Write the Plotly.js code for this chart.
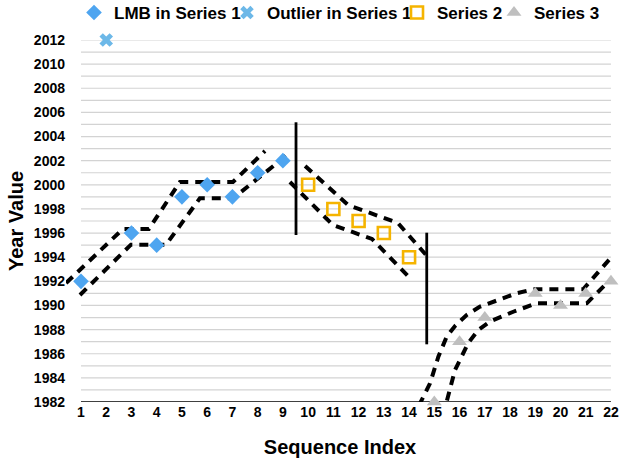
<!DOCTYPE html>
<html>
<head>
<meta charset="utf-8">
<script src="https://cdn.plot.ly/plotly-3.0.1.min.js"></script>
<style>html,body{margin:0;padding:0;background:#fff;}#chart{width:621px;height:462px;}</style>
</head>
<body>
<div id="chart"></div>
<script>
// ---- data ----
var xTicks = [1,2,3,4,5,6,7,8,9,10,11,12,13,14,15,16,17,18,19,20,21,22];
var yTicks = [1982,1984,1986,1988,1990,1992,1994,1996,1998,2000,2002,2004,2006,2008,2010,2012];
var gridYears = [1982,1983,1984,1985,1986,1987,1988,1989,1990,1991,1992,1993,1994,1995,1996,1997,1998,1999,2000,2001,2002,2003,2004,2005,2006,2007,2008,2009,2010,2011,2012];

var s1X = [1,3,4,5,6,7,8,9];
var s1Y = [1992,1996,1995,1999,2000,1999,2001,2002];
var outX = [2];
var outY = [2012];
var s2X = [10,11,12,13,14];
var s2Y = [2000,1998,1997,1996,1994];
var s3X = [15,16,17,19,20,21,22];
var s3Y = [1982,1987,1989,1991,1990,1991,1992];

// dashed envelope outlines
var b1UpX = [0.41,2.66,3.69,4.92,7.02,8.29];
var b1UpY = [1991.86,1996.34,1996.34,2000.23,2000.23,2002.8];
var b1LoX = [0.96,2.98,4.37,5.71,7.03,9.12];
var b1LoY = [1990.87,1995.04,1995.04,1998.88,1998.88,2002.4];
var b2UpX = [9.88,11.58,13.56,14.71];
var b2UpY = [2001.56,1998.33,1996.83,1994.1];
var b2LoX = [9.28,10.98,12.53,14.03];
var b2LoY = [2000.23,1996.67,1995.51,1992.28];
var b3UpX = [14.39,14.83,15.16,15.49,15.82,16.28,16.81,17.47,18.26,18.92,20.9,22.09];
var b3UpY = [1981.7,1983.55,1985.75,1987.41,1988.3,1989.21,1989.9,1990.4,1991.01,1991.34,1991.34,1994.18];
var b3LoX = [15.34,15.82,16.34,16.74,17.2,18.13,19.05,21.04,21.84];
var b3LoY = [1980.84,1984.65,1986.87,1987.97,1988.66,1989.48,1990.18,1990.18,1991.86];

// vertical separators
var sep1X = [9.52,9.52];
var sep1Y = [2005.18,1995.84];
var sep2X = [14.7,14.7];
var sep2Y = [1996.03,1986.78];

// ---- traces ----
var dashLine = {color:'#000000', width:4, dash:'9px,7px'};
function band(x, y) {
  return {x:x, y:y, type:'scatter', mode:'lines', line:dashLine, showlegend:false, hoverinfo:'skip'};
}
function sep(x, y) {
  return {x:x, y:y, type:'scatter', mode:'lines', line:{color:'#000000', width:2.8}, showlegend:false, hoverinfo:'skip'};
}

var traces = [
  band(b1UpX,b1UpY), band(b1LoX,b1LoY),
  band(b2UpX,b2UpY), band(b2LoX,b2LoY),
  band(b3UpX,b3UpY), band(b3LoX,b3LoY),
  sep(sep1X,sep1Y), sep(sep2X,sep2Y),
  {x:s1X, y:s1Y, type:'scatter', mode:'markers', name:'LMB in Series 1',
   marker:{symbol:'diamond', size:12, color:'#4ea5f0'}, cliponaxis:false, legendwidth:108},
  {x:outX, y:outY, type:'scatter', mode:'markers', name:'Outlier in Series 1',
   marker:{symbol:'x', size:12, color:'#6cb8e8'}, cliponaxis:false, legendwidth:125},
  {x:s2X, y:s2Y, type:'scatter', mode:'markers', name:'Series 2',
   marker:{symbol:'square-open', size:12, color:'#f5b400', line:{width:2.6, color:'#f5b400'}}, cliponaxis:false, legendwidth:52},
  {x:s3X, y:s3Y, type:'scatter', mode:'markers', name:'Series 3',
   marker:{symbol:'triangle-up', size:13, color:'#bfbfbf'}, cliponaxis:false}
];

var shapes = gridYears.map(function(yr){
  return {type:'line', xref:'x', yref:'y', x0:1, x1:22, y0:yr, y1:yr, layer:'below',
          line:{color: yr === 1982 ? '#000000' : '#d3d3d3', width: yr === 1982 ? 1.6 : 1.2}};
});

var font = 'Liberation Sans, Arial, Helvetica, sans-serif';
var layout = {
  width:621, height:462,
  margin:{l:66, r:7, t:40, b:60, autoexpand:false},
  paper_bgcolor:'#ffffff', plot_bgcolor:'#ffffff',
  font:{family:font, color:'#000000'},
  showlegend:true,
  legend:{orientation:'h', x:0.0146, xanchor:'left', y:1.0746, yanchor:'middle',
          font:{family:font, size:17, color:'#000000', weight:'bold'},
          itemwidth:30, tracegroupgap:0, bgcolor:'rgba(0,0,0,0)'},
  xaxis:{range:[0.406,22.12], tickmode:'array', tickvals:xTicks, ticktext:xTicks.map(String),
         showgrid:false, zeroline:false, showline:false, ticks:'', automargin:false,
         tickfont:{family:font, size:14, weight:'bold'},
         title:{text:'Sequence Index', font:{family:font, size:20, weight:'bold'}, standoff:20}},
  yaxis:{range:[1982,2012], tickmode:'array', tickvals:yTicks, ticktext:yTicks.map(String),
         showgrid:false, zeroline:false, showline:false, ticks:'', automargin:false,
         tickfont:{family:font, size:14, weight:'bold'},
         title:{text:'Year Value', font:{family:font, size:20, weight:'bold'}, standoff:4}},
  shapes:shapes
};

Plotly.newPlot('chart', traces, layout, {displayModeBar:false, staticPlot:true});
</script>
</body>
</html>
